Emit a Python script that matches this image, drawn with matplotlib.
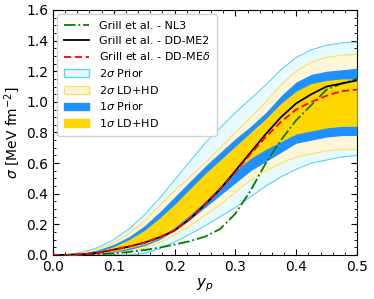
import matplotlib
matplotlib.use("Agg")
import matplotlib.pyplot as plt
from matplotlib.patches import Patch
from matplotlib.lines import Line2D

# ---------------- data ----------------
yp = [0.0, 0.025, 0.05, 0.075, 0.1, 0.125, 0.15, 0.175, 0.2, 0.225, 0.25,
      0.275, 0.3, 0.325, 0.35, 0.375, 0.4, 0.425, 0.45, 0.475, 0.5]

prior2_hi = [0, 0.003, 0.02, 0.05, 0.10, 0.17, 0.26, 0.37, 0.49, 0.61, 0.73,
             0.83, 0.93, 1.02, 1.11, 1.21, 1.29, 1.34, 1.37, 1.385, 1.39]
prior2_lo = [0, 0, 0, 0, 0, 0, 0.01, 0.04, 0.085, 0.135, 0.19,
             0.25, 0.31, 0.38, 0.45, 0.51, 0.56, 0.60, 0.62, 0.64, 0.65]
ldhd2_hi = [0, 0.002, 0.015, 0.04, 0.08, 0.14, 0.22, 0.32, 0.42, 0.51, 0.60,
            0.70, 0.80, 0.90, 1.00, 1.11, 1.20, 1.26, 1.29, 1.305, 1.31]
ldhd2_lo = [0, 0, 0.001, 0.005, 0.012, 0.025, 0.045, 0.08, 0.13, 0.19, 0.26,
            0.33, 0.41, 0.49, 0.55, 0.60, 0.64, 0.66, 0.68, 0.69, 0.69]
prior1_hi = [0, 0.002, 0.012, 0.035, 0.07, 0.12, 0.19, 0.28, 0.38, 0.48, 0.58,
             0.67, 0.76, 0.84, 0.93, 1.04, 1.13, 1.18, 1.20, 1.21, 1.22]
prior1_lo = [0, 0, 0.002, 0.008, 0.02, 0.035, 0.06, 0.10, 0.16, 0.23, 0.31,
             0.39, 0.47, 0.55, 0.61, 0.67, 0.73, 0.75, 0.77, 0.78, 0.78]
ldhd1_hi = [0, 0.001, 0.008, 0.025, 0.055, 0.10, 0.16, 0.24, 0.33, 0.43, 0.53,
            0.62, 0.71, 0.80, 0.89, 0.99, 1.07, 1.12, 1.14, 1.15, 1.15]
ldhd1_lo = [0, 0, 0.003, 0.01, 0.025, 0.045, 0.07, 0.11, 0.18, 0.26, 0.35,
            0.45, 0.55, 0.63, 0.69, 0.74, 0.79, 0.81, 0.83, 0.84, 0.84]

dd_me2 = [0, 0.001, 0.005, 0.015, 0.035, 0.055, 0.08, 0.115, 0.16, 0.235, 0.33,
          0.43, 0.55, 0.67, 0.79, 0.90, 0.99, 1.05, 1.10, 1.12, 1.14]
dd_med = [0, 0.001, 0.005, 0.015, 0.035, 0.055, 0.08, 0.115, 0.16, 0.235, 0.33,
          0.43, 0.54, 0.66, 0.77, 0.87, 0.95, 1.00, 1.04, 1.07, 1.08]

yp_nl3 = [0.05, 0.075, 0.1, 0.125, 0.15, 0.175, 0.2, 0.225, 0.25, 0.275, 0.3,
          0.325, 0.35, 0.375, 0.4, 0.425, 0.45, 0.475, 0.5]
nl3 = [0.0, 0.004, 0.01, 0.02, 0.032, 0.048, 0.068, 0.09, 0.12, 0.17, 0.27,
       0.42, 0.60, 0.75, 0.88, 0.98, 1.08, 1.12, 1.15]

labels = ["Grill et al. - NL3", "Grill et al. - DD-ME2", r"Grill et al. - DD-ME$\delta$",
          r"2$\sigma$ Prior", r"2$\sigma$ LD+HD", r"1$\sigma$ Prior", r"1$\sigma$ LD+HD"]

# ---------------- style ----------------
c_p2_fill, c_p2_edge = "#e6faff", "#5cd4f4"
c_l2_fill, c_l2_edge = "#fff6d8", "#ffe066"
c_p1 = "#1e90ff"
c_l1 = "#ffd700"

fig = plt.figure(figsize=(3.74, 2.99), dpi=100)
ax = fig.add_axes([0.1417, 0.1472, 0.8128, 0.8194])

ax.fill_between(yp, prior2_lo, prior2_hi, color=c_p2_fill, lw=0, zorder=1)
ax.fill_between(yp, ldhd2_lo, ldhd2_hi, color=c_l2_fill, lw=0, zorder=2)
ax.plot(yp, prior2_hi, color=c_p2_edge, lw=0.8, zorder=2.1)
ax.plot(yp, prior2_lo, color=c_p2_edge, lw=0.8, zorder=2.1)
ax.plot(yp, ldhd2_hi, color=c_l2_edge, lw=0.8, zorder=2.2)
ax.plot(yp, ldhd2_lo, color=c_l2_edge, lw=0.8, zorder=2.2)
ax.fill_between(yp, prior1_lo, prior1_hi, color=c_p1, lw=0, zorder=3)
ax.fill_between(yp, ldhd1_lo, ldhd1_hi, color=c_l1, lw=0, zorder=4)

ax.plot(yp_nl3, nl3, color="green", ls="-.", lw=1.3, zorder=5)
ax.plot(yp, dd_me2, color="black", ls="-", lw=1.3, zorder=6)
ax.plot(yp, dd_med, color="red", ls=(0, (4, 2)), lw=1.3, zorder=7)

ax.set_xlim(0, 0.5)
ax.set_ylim(0, 1.6)
ax.set_xticks([0.0, 0.1, 0.2, 0.3, 0.4, 0.5])
ax.set_yticks([0.0, 0.2, 0.4, 0.6, 0.8, 1.0, 1.2, 1.4, 1.6])
ax.set_xticks([i * 0.02 for i in range(26)], minor=True)
ax.set_yticks([i * 0.05 for i in range(33)], minor=True)
ax.tick_params(which="both", direction="in", top=True, right=True, labelsize=10)
ax.tick_params(which="major", length=4, width=0.8)
ax.tick_params(which="minor", length=2, width=0.6)
for s in ax.spines.values():
    s.set_linewidth(0.8)

ax.set_xlabel(r"$y_p$", fontsize=11, labelpad=2)
ax.set_ylabel(r"$\sigma$ [MeV fm$^{-2}$]", fontsize=10, labelpad=3)

handles = [
    Line2D([], [], color="green", ls="-.", lw=1.3),
    Line2D([], [], color="black", ls="-", lw=1.3),
    Line2D([], [], color="red", ls=(0, (4, 2)), lw=1.3),
    Patch(facecolor=c_p2_fill, edgecolor=c_p2_edge, lw=1.0),
    Patch(facecolor=c_l2_fill, edgecolor=c_l2_edge, lw=1.0),
    Patch(facecolor=c_p1, edgecolor=c_p1),
    Patch(facecolor=c_l1, edgecolor=c_l1),
]
leg = ax.legend(handles, labels, loc="upper left", fontsize=8, labelspacing=0.42,
                handlelength=2.2, handletextpad=0.9, borderpad=0.6,
                borderaxespad=0.4, framealpha=0.9, edgecolor="#cccccc")
leg.set_zorder(10)

fig.savefig("out.png", dpi=100)
